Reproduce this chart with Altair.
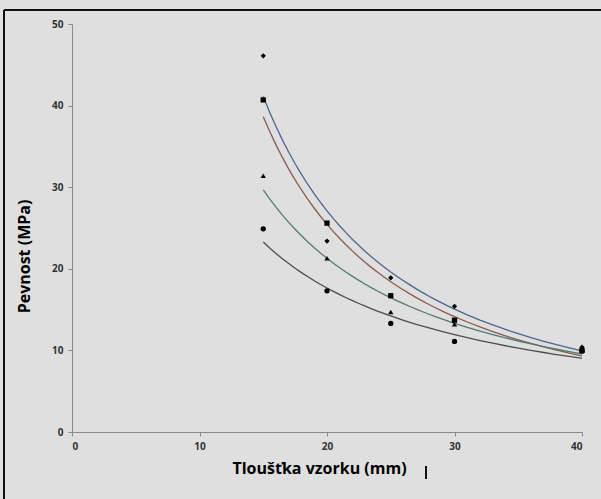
import altair as alt
import pandas as pd

thickness = [15, 20, 25, 30, 40]
series_names = ["A", "B", "C", "D"]
values_A = [46.1, 23.4, 18.9, 15.4, 10.4]   # diamonds
values_B = [40.7, 25.6, 16.7, 13.7, 10.0]   # squares
values_C = [31.4, 21.3, 14.7, 13.2, 10.2]   # triangles
values_D = [24.9, 17.3, 13.3, 11.1, 9.9]    # circles
shapes = ["diamond", "square", "triangle-up", "circle"]
line_colors = ["#4f6392", "#8c5a52", "#4e7d6e", "#4d4d4d"]

rows = []
for name, vals in zip(series_names, [values_A, values_B, values_C, values_D]):
    for t, v in zip(thickness, vals):
        rows.append({"x": t, "y": v, "s": name})
df = pd.DataFrame(rows)

W, H = 510, 408
base = alt.Chart(df)

xenc = alt.X("x:Q", scale=alt.Scale(domain=[0, 40], nice=False),
             axis=alt.Axis(values=[0, 10, 20, 30, 40], title="Tloušťka vzorku (mm)",
                           grid=False, domainColor="#8a8a8a", tickColor="#8a8a8a",
                           tickSize=4, labelFont="Open Sans", labelFontWeight="bold",
                           labelFontSize=10, labelColor="#333333", labelPadding=5,
                           titleFont="Open Sans", titleFontSize=16, titleFontWeight="bold",
                           titleColor="#000000", titleX=247, titleY=28))
yenc = alt.Y("y:Q", scale=alt.Scale(domain=[0, 50], nice=False),
             axis=alt.Axis(values=[0, 10, 20, 30, 40, 50], title="Pevnost (MPa)",
                           grid=False, domainColor="#8a8a8a", tickColor="#8a8a8a",
                           tickSize=4, labelFont="Open Sans", labelFontWeight="bold",
                           labelFontSize=10, labelColor="#333333", labelPadding=5,
                           titleFont="Open Sans", titleFontSize=16, titleFontWeight="bold",
                           titleColor="#000000", titleX=-40, titleY=232, titleAngle=-90))

lines = base.transform_regression(
    "x", "y", groupby=["s"], method="pow", extent=[15, 40]
).mark_line(strokeWidth=1.3).encode(
    x=xenc, y=yenc,
    color=alt.Color("s:N", scale=alt.Scale(domain=series_names, range=line_colors), legend=None),
)

points = base.mark_point(filled=True, color="#000000", opacity=1, size=28).encode(
    x="x:Q", y="y:Q",
    shape=alt.Shape("s:N", scale=alt.Scale(domain=series_names, range=shapes), legend=None),
)

frame_top = base.mark_rule(color="#111111", strokeWidth=1.5).encode(
    x=alt.value(-68), x2=alt.value(529), y=alt.value(-14))
frame_left = base.mark_rule(color="#111111", strokeWidth=1.5).encode(
    x=alt.value(-68), y=alt.value(-14), y2=alt.value(475))
mark_bar = base.mark_rule(color="#111111", strokeWidth=1.5).encode(
    x=alt.value(354), y=alt.value(34 + H), y2=alt.value(47 + H))

chart = alt.layer(lines, points, frame_top, frame_left, mark_bar).properties(
    width=W, height=H,
    autosize=alt.AutoSizeParams(type="none"),
    padding={"left": 72, "top": 24, "right": 19, "bottom": 67},
    background="#dfdfdf",
).configure_view(stroke=None)

chart.save("out.html", embed_options={"renderer": "svg", "actions": False})
